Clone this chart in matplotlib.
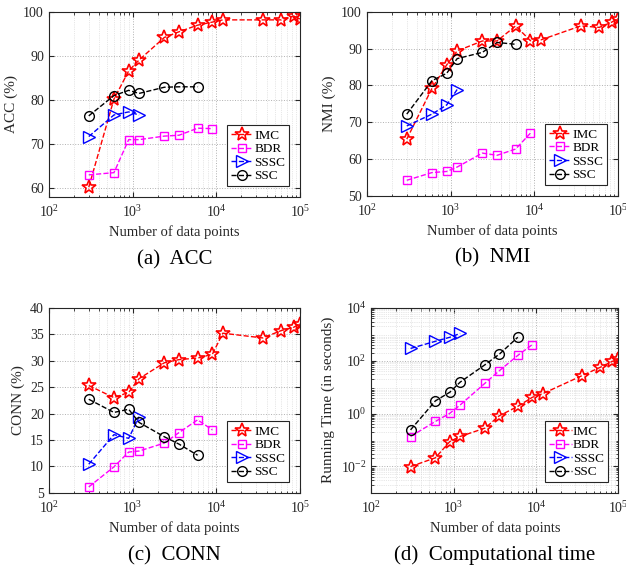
import matplotlib
matplotlib.use("Agg")
import matplotlib.pyplot as plt
import numpy as np
from matplotlib.ticker import LogLocator, NullFormatter

plt.rcParams['font.family'] = ['Liberation Serif', 'DejaVu Serif']
plt.rcParams['mathtext.fontset'] = 'stix'

# data points
n_imc = [300, 600, 900, 1200, 2400, 3600, 6000, 9000, 12000, 36000, 60000, 84000, 100000]
n_bdr = [300, 600, 900, 1200, 2400, 3600, 6000, 9000]
n_sssc = [300, 600, 900, 1200]
n_ssc = [300, 600, 900, 1200, 2400, 3600, 6000]

acc_imc = [60.2, 80.2, 86.6, 89.1, 94.2, 95.5, 97.0, 97.7, 98.2, 98.2, 98.2, 99.1, 98.4]
acc_bdr = [63.0, 63.5, 71.0, 71.0, 71.8, 72.0, 73.6, 73.5]
acc_sssc = [71.7, 76.6, 77.3, 76.6]
acc_ssc = [76.4, 81.0, 82.2, 81.5, 82.9, 83.0, 83.0]

nmi_imc = [65.4, 79.2, 85.6, 89.4, 92.1, 92.1, 96.2, 92.2, 92.4, 96.2, 95.8, 97.2, 98.2]
nmi_bdr = [54.2, 56.3, 56.6, 57.8, 61.6, 61.0, 62.7, 67.0]
nmi_sssc = [69.0, 72.2, 74.7, 78.9]
nmi_ssc = [72.2, 81.3, 83.3, 87.3, 89.0, 91.7, 91.2]

conn_imc = [25.3, 23.0, 24.0, 26.6, 29.6, 30.2, 30.5, 31.2, 35.2, 34.3, 35.7, 36.3, 37.0]
conn_bdr = [6.1, 9.9, 12.7, 12.9, 14.4, 16.4, 18.8, 16.9]
conn_sssc = [10.4, 16.0, 15.3, 19.4]
conn_ssc = [22.7, 20.2, 20.8, 18.3, 15.6, 14.2, 12.1]

time_imc = [0.0098, 0.021, 0.087, 0.135, 0.28, 0.83, 1.86, 4.1, 5.6, 27, 56, 94, 115]
time_bdr = [0.134, 0.50, 1.02, 2.1, 14, 42, 158, 405]
time_sssc = [290, 540, 770, 1070]
time_ssc = [0.24, 3.0, 6.4, 15.4, 70, 178, 770]

fig = plt.figure(figsize=(6.26, 5.69), dpi=100)

positions = [
    [0.078, 0.654, 0.401, 0.325],
    [0.586, 0.656, 0.401, 0.323],
    [0.078, 0.134, 0.401, 0.325],
    [0.593, 0.134, 0.395, 0.325],
]

panels = [
    (acc_imc, acc_bdr, acc_sssc, acc_ssc, 'ACC (%)', '(a)  ACC'),
    (nmi_imc, nmi_bdr, nmi_sssc, nmi_ssc, 'NMI (%)', '(b)  NMI'),
    (conn_imc, conn_bdr, conn_sssc, conn_ssc, 'CONN (%)', '(c)  CONN'),
    (time_imc, time_bdr, time_sssc, time_ssc, 'Running Time (in seconds)', '(d)  Computational time'),
]

for i, (imc, bdr, sssc, ssc, ylab, cap) in enumerate(panels):
    ax = fig.add_axes(positions[i])
    ax.plot(n_imc, imc, 'r--', marker='*', ms=10, mfc='none', mew=1.2, lw=1, label='IMC')
    ax.plot(n_bdr, bdr, '--', color='#ff00ff', marker='s', ms=6, mfc='none', mew=1, lw=1, label='BDR')
    ax.plot(n_sssc, sssc, 'b--', marker='>', ms=8, mfc='none', mew=1, lw=1, label='SSSC')
    ax.plot(n_ssc, ssc, 'k--', marker='o', ms=7, mfc='none', mew=1, lw=1, label='SSC')
    ax.set_xscale('log')
    ax.set_xlim(100, 100000)
    ax.xaxis.set_major_locator(LogLocator(base=10, numticks=10))
    ax.xaxis.set_minor_locator(LogLocator(base=10, subs=np.arange(2, 10), numticks=20))
    ax.xaxis.set_minor_formatter(NullFormatter())
    if i == 0:
        ax.set_ylim(58, 100)
        ax.set_yticks([60, 70, 80, 90, 100])
    elif i == 1:
        ax.set_ylim(50, 100)
        ax.set_yticks([50, 60, 70, 80, 90, 100])
    elif i == 2:
        ax.set_ylim(5, 40)
        ax.set_yticks([5, 10, 15, 20, 25, 30, 35, 40])
    else:
        ax.set_yscale('log')
        ax.set_ylim(1e-3, 1e4)
        ax.set_yticks([1e-2, 1e0, 1e2, 1e4])
        ax.yaxis.set_minor_locator(LogLocator(base=10, subs=np.arange(2, 10), numticks=20))
        ax.yaxis.set_minor_formatter(NullFormatter())
    ax.grid(True, which='major', ls=':', color='#b0b0b0', lw=0.7)
    ax.grid(True, which='minor', ls=':', color='#d0d0d0', lw=0.5)
    ax.tick_params(which='both', direction='in', top=True, right=True, labelsize=10, colors='#262626')
    ax.tick_params(which='major', length=3.5)
    ax.tick_params(which='minor', length=1.8)
    ax.tick_params(axis='x', pad=5)
    for s in ax.spines.values():
        s.set_color('#262626')
        s.set_linewidth(0.8)
    ax.set_xlabel('Number of data points', fontsize=10.5, color='#262626')
    ax.set_ylabel(ylab, fontsize=11, color='#262626')
    leg = ax.legend(loc='lower right', fontsize=9.5, fancybox=False, edgecolor='#262626',
                    handlelength=1.7, handletextpad=0.1, borderpad=0.3, labelspacing=0.1,
                    framealpha=1, borderaxespad=0.8)
    leg.get_frame().set_linewidth(0.8)
    ax.text(0.5, -0.34, cap, transform=ax.transAxes, ha='center', va='center', fontsize=15)

fig.savefig('out.png', dpi=100)
